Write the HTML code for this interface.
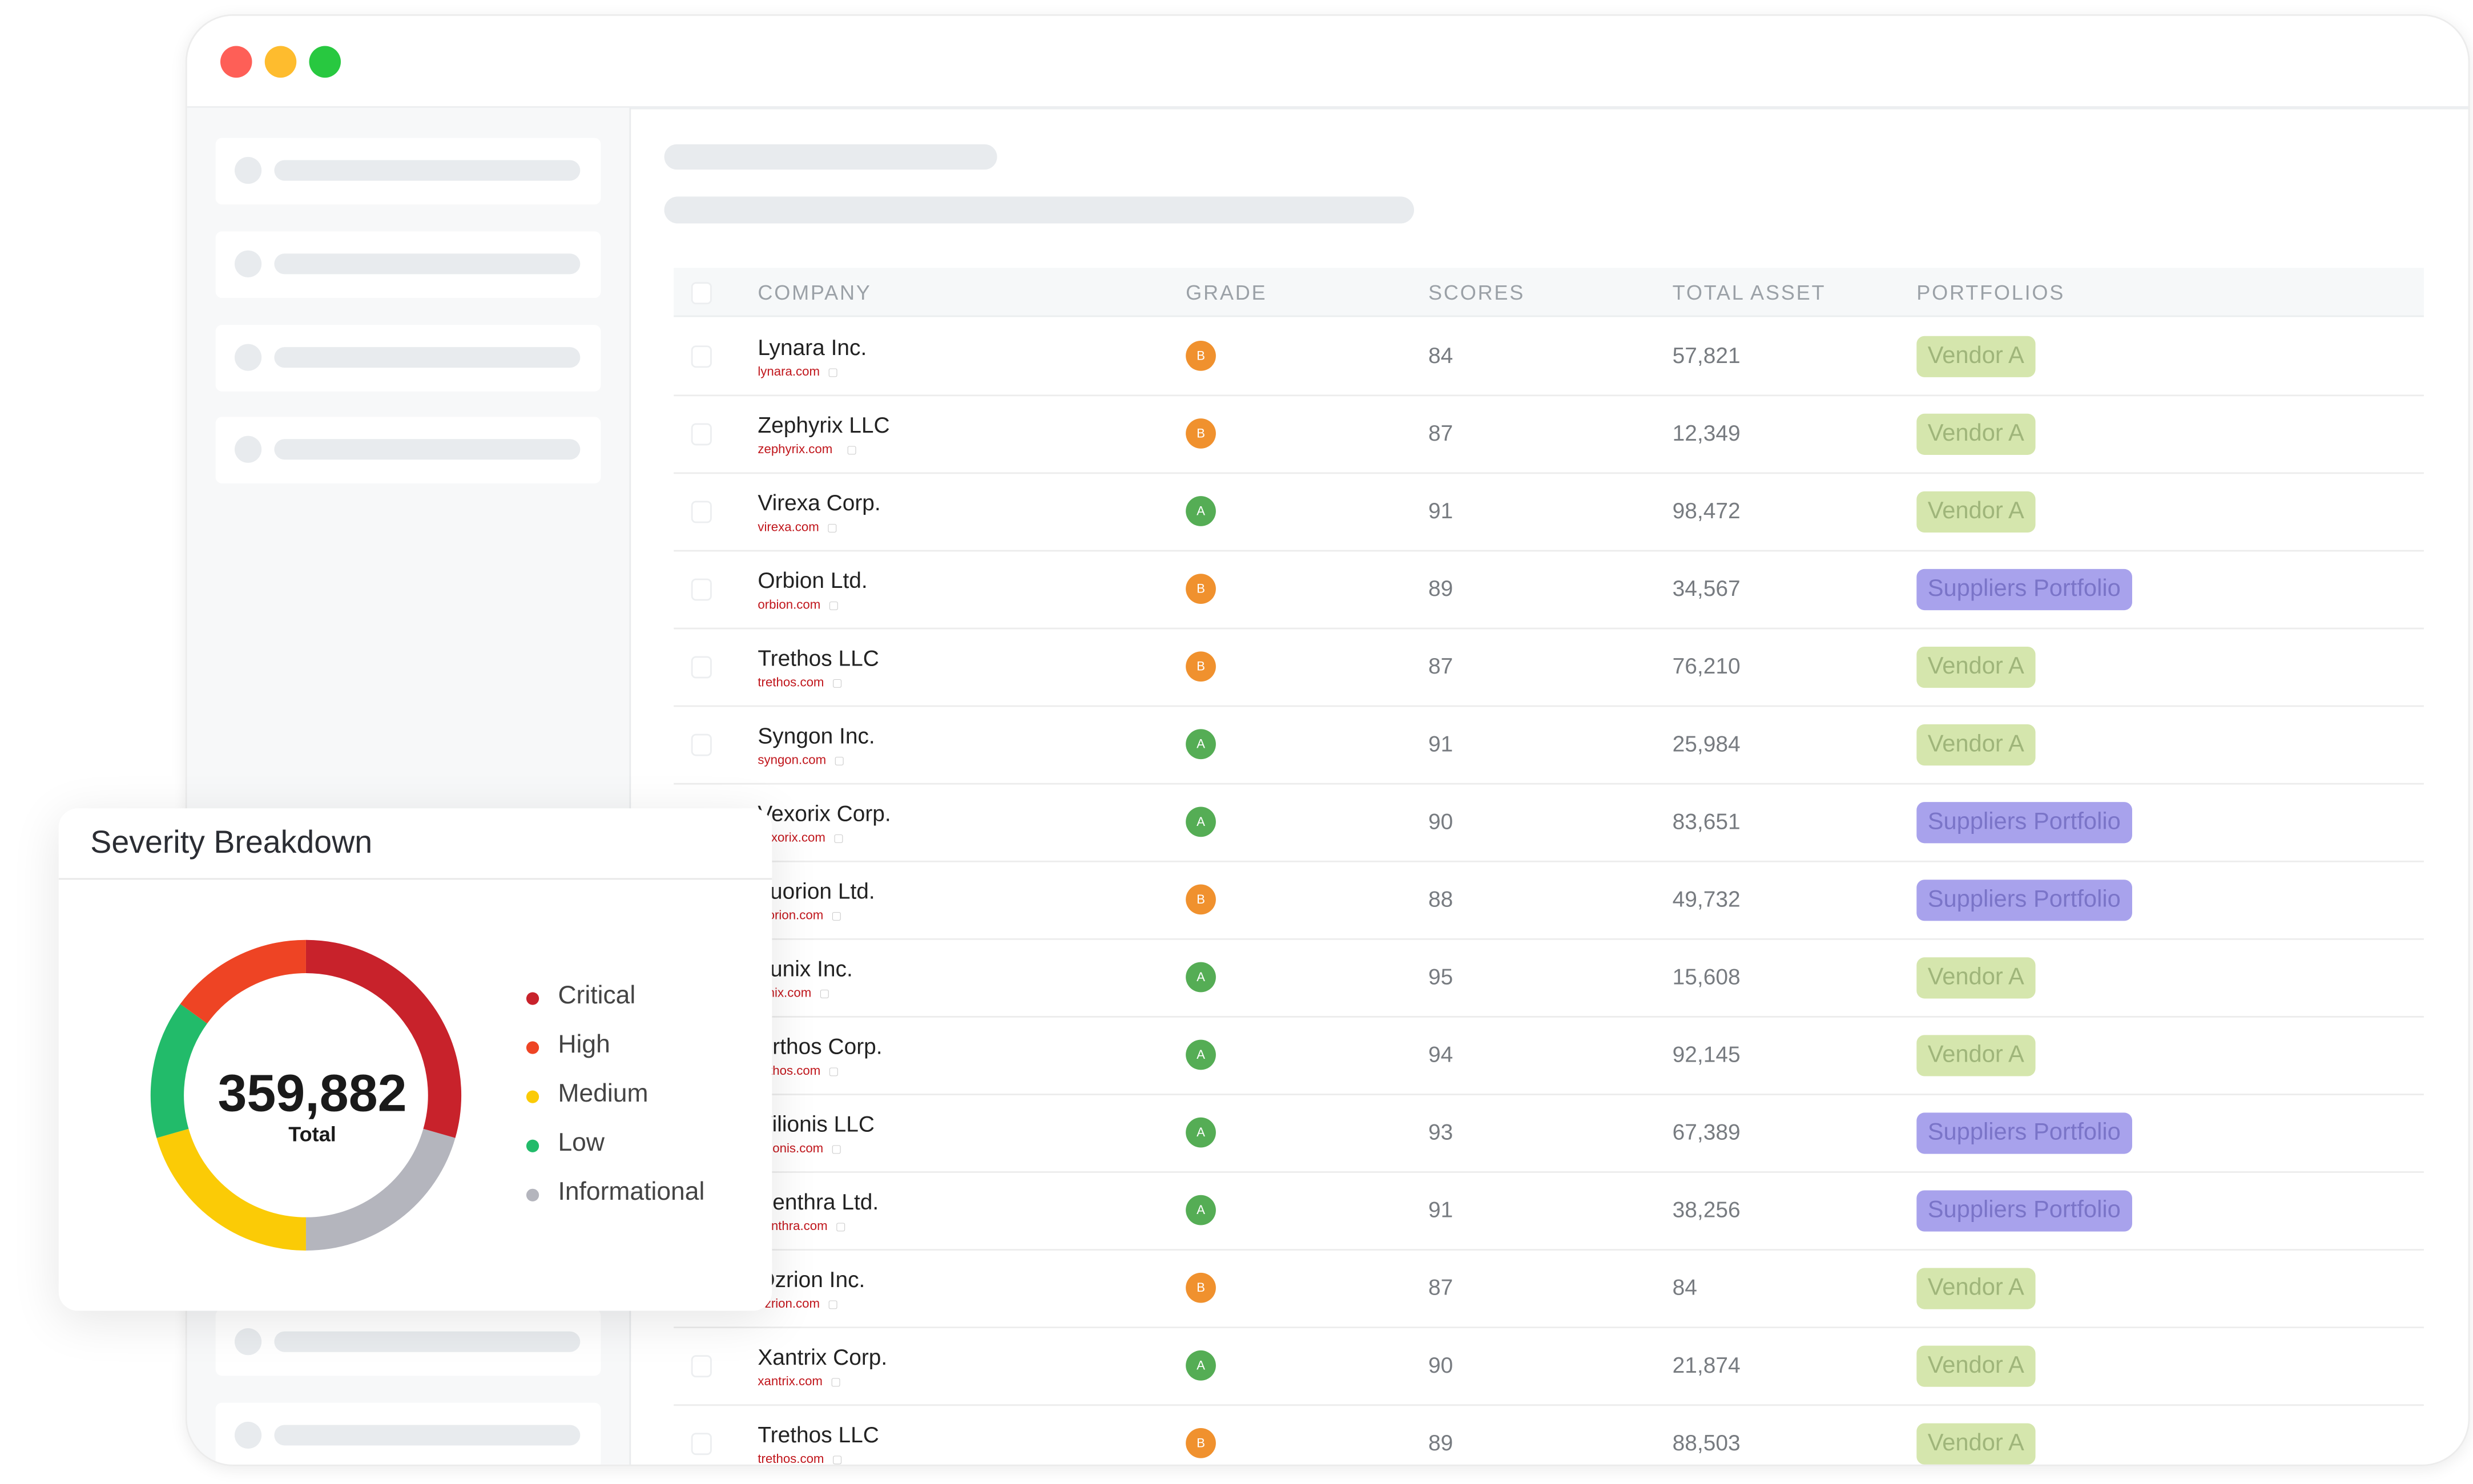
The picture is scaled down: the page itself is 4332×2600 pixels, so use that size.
<!DOCTYPE html>
<html><head><meta charset="utf-8">
<style>
html,body{margin:0;padding:0;background:#fff;}
body{width:4332px;height:2600px;overflow:hidden;position:relative;font-family:"Liberation Sans",sans-serif;}
#s{position:absolute;left:0;top:0;width:1560px;height:936.3px;transform:scale(2.77692);transform-origin:0 0;}
.abs{position:absolute;}
.win{left:117px;top:9px;width:1439px;height:914px;border-radius:30px;background:#fff;box-shadow:0 2px 10px rgba(0,0,0,0.08);border:1px solid #ececec;overflow:hidden;}
.dot{width:20px;height:20px;border-radius:50%;top:19px;}
.side{left:0;top:58px;width:279px;height:860px;background:#f7f8f9;border-right:1px solid #e9ebed;}
.hdrline{left:0;top:57px;width:1439px;height:2px;background:#eceef0;}
.card{left:18px;width:243px;height:42px;background:#fff;border-radius:4px;}
.card .c{position:absolute;left:12px;top:12px;width:17px;height:17px;border-radius:50%;background:#e8ebee;}
.card .b{position:absolute;left:37px;top:14px;width:193px;height:13px;border-radius:7px;background:#e8ebee;}
.sk{background:#e8ebee;border-radius:9px;}
.th{left:307px;top:159px;width:1104px;height:30px;background:#f6f8f9;border-bottom:1px solid #eaedef;}
.thx{position:absolute;top:8px;font-size:13px;letter-spacing:1px;color:#9ba1a7;}
.row{left:307px;width:1104px;height:49px;border-bottom:1px solid #ececec;}
.cb{position:absolute;left:11px;top:18px;width:11px;height:12px;border:1px solid #eceef0;border-radius:3px;background:#fff;}
.nm{position:absolute;left:53px;top:11px;font-size:14px;color:#222;white-space:nowrap;}
.dm{position:absolute;left:53px;top:30px;font-size:8px;color:#c0151b;white-space:nowrap;}
.dm i{font-style:normal;color:#ccc;margin-left:5px;font-size:7px;}
.gr{position:absolute;left:323px;top:15px;width:19px;height:19px;border-radius:50%;color:#fff;font-size:8px;text-align:center;line-height:19px;}
.gB{background:#f0912e;}.gA{background:#55ad55;}
.sc{position:absolute;left:476px;top:16px;font-size:14px;color:#777b80;}
.ta{position:absolute;left:630px;top:16px;font-size:14px;color:#777b80;}
.pill{position:absolute;left:784px;top:12px;height:26px;line-height:26px;border-radius:5px;font-size:15px;padding:0 7px;}
.pv{background:#d5e6ad;color:#9fb57a;}
.ps{background:#a8a2ec;color:#7a74c8;}
.sev{left:37px;top:510px;width:450px;height:317px;background:#fff;border-radius:12px;box-shadow:0 6px 30px rgba(0,0,0,0.10);overflow:hidden;}
.lg{position:absolute;left:315px;font-size:16px;color:#444;}
.lg span{position:absolute;left:-20px;top:6px;width:8px;height:8px;border-radius:50%;}
</style></head><body><div id="s">
<div class="abs win">
  <div class="abs dot" style="left:21px;background:#fe5f57;"></div>
  <div class="abs dot" style="left:49px;background:#febc2e;"></div>
  <div class="abs dot" style="left:77px;background:#28c840;"></div>
  <div class="abs hdrline"></div>
  <div class="abs side">
    <div class="abs card" style="top:19px"><div class="c"></div><div class="b"></div></div>
    <div class="abs card" style="top:78px"><div class="c"></div><div class="b"></div></div>
    <div class="abs card" style="top:137px"><div class="c"></div><div class="b"></div></div>
    <div class="abs card" style="top:195px"><div class="c"></div><div class="b"></div></div>
    <div class="abs card" style="top:758px"><div class="c"></div><div class="b"></div></div>
    <div class="abs card" style="top:817px"><div class="c"></div><div class="b"></div></div>
  </div>
  <div class="abs sk" style="left:301px;top:81px;width:210px;height:16px;"></div>
  <div class="abs sk" style="left:301px;top:114px;width:473px;height:17px;"></div>
  <div class="abs th">
    <div class="cb" style="top:9px"></div>
    <div class="thx" style="left:53px">COMPANY</div>
    <div class="thx" style="left:323px">GRADE</div>
    <div class="thx" style="left:476px">SCORES</div>
    <div class="thx" style="left:630px">TOTAL ASSET</div>
    <div class="thx" style="left:784px">PORTFOLIOS</div>
  </div>
  <div class="abs row" style="top:190px"><div class="cb"></div><div class="nm">Lynara Inc.</div><div class="dm">lynara.com<i>▢</i></div><div class="gr gB">B</div><div class="sc">84</div><div class="ta">57,821</div><div class="pill pv">Vendor A</div></div>
  <div class="abs row" style="top:239px"><div class="cb"></div><div class="nm">Zephyrix LLC</div><div class="dm">zephyrix.com<i>&nbsp;&nbsp;▢</i></div><div class="gr gB">B</div><div class="sc">87</div><div class="ta">12,349</div><div class="pill pv">Vendor A</div></div>
  <div class="abs row" style="top:288px"><div class="cb"></div><div class="nm">Virexa Corp.</div><div class="dm">virexa.com<i>▢</i></div><div class="gr gA">A</div><div class="sc">91</div><div class="ta">98,472</div><div class="pill pv">Vendor A</div></div>
  <div class="abs row" style="top:337px"><div class="cb"></div><div class="nm">Orbion Ltd.</div><div class="dm">orbion.com<i>▢</i></div><div class="gr gB">B</div><div class="sc">89</div><div class="ta">34,567</div><div class="pill ps">Suppliers Portfolio</div></div>
  <div class="abs row" style="top:386px"><div class="cb"></div><div class="nm">Trethos LLC</div><div class="dm">trethos.com<i>▢</i></div><div class="gr gB">B</div><div class="sc">87</div><div class="ta">76,210</div><div class="pill pv">Vendor A</div></div>
  <div class="abs row" style="top:435px"><div class="cb"></div><div class="nm">Syngon Inc.</div><div class="dm">syngon.com<i>▢</i></div><div class="gr gA">A</div><div class="sc">91</div><div class="ta">25,984</div><div class="pill pv">Vendor A</div></div>
  <div class="abs row" style="top:484px"><div class="cb"></div><div class="nm">Vexorix Corp.</div><div class="dm">vexorix.com<i>▢</i></div><div class="gr gA">A</div><div class="sc">90</div><div class="ta">83,651</div><div class="pill ps">Suppliers Portfolio</div></div>
  <div class="abs row" style="top:533px"><div class="cb"></div><div class="nm">Luorion Ltd.</div><div class="dm">luorion.com<i>▢</i></div><div class="gr gB">B</div><div class="sc">88</div><div class="ta">49,732</div><div class="pill ps">Suppliers Portfolio</div></div>
  <div class="abs row" style="top:582px"><div class="cb"></div><div class="nm">Lunix Inc.</div><div class="dm">lunix.com<i>▢</i></div><div class="gr gA">A</div><div class="sc">95</div><div class="ta">15,608</div><div class="pill pv">Vendor A</div></div>
  <div class="abs row" style="top:631px"><div class="cb"></div><div class="nm">Erthos Corp.</div><div class="dm">erthos.com<i>▢</i></div><div class="gr gA">A</div><div class="sc">94</div><div class="ta">92,145</div><div class="pill pv">Vendor A</div></div>
  <div class="abs row" style="top:680px"><div class="cb"></div><div class="nm">Vilionis LLC</div><div class="dm">vilionis.com<i>▢</i></div><div class="gr gA">A</div><div class="sc">93</div><div class="ta">67,389</div><div class="pill ps">Suppliers Portfolio</div></div>
  <div class="abs row" style="top:729px"><div class="cb"></div><div class="nm">Xenthra Ltd.</div><div class="dm">xenthra.com<i>▢</i></div><div class="gr gA">A</div><div class="sc">91</div><div class="ta">38,256</div><div class="pill ps">Suppliers Portfolio</div></div>
  <div class="abs row" style="top:778px"><div class="cb"></div><div class="nm">Ozrion Inc.</div><div class="dm">ozrion.com<i>▢</i></div><div class="gr gB">B</div><div class="sc">87</div><div class="ta">84</div><div class="pill pv">Vendor A</div></div>
  <div class="abs row" style="top:827px"><div class="cb"></div><div class="nm">Xantrix Corp.</div><div class="dm">xantrix.com<i>▢</i></div><div class="gr gA">A</div><div class="sc">90</div><div class="ta">21,874</div><div class="pill pv">Vendor A</div></div>
  <div class="abs row" style="top:876px;border-bottom:none"><div class="cb"></div><div class="nm">Trethos LLC</div><div class="dm">trethos.com<i>▢</i></div><div class="gr gB">B</div><div class="sc">89</div><div class="ta">88,503</div><div class="pill pv">Vendor A</div></div>
</div>

<div class="abs sev">
  <div style="position:absolute;left:20px;top:11px;font-size:20px;color:#2b2d33;">Severity Breakdown</div>
  <div style="position:absolute;left:0;top:44px;width:450px;height:1px;background:#e8e8e8;"></div>
  <svg style="position:absolute;left:0;top:0" width="450" height="317" viewBox="37 510 450 317">
    <g fill="none" stroke-width="21">
      <path d="M193 603.5 A87.5 87.5 0 0 1 277.1 715.1" stroke="#c8222b"/>
      <path d="M277.1 715.1 A87.5 87.5 0 0 1 193 778.5" stroke="#b4b5bd"/>
      <path d="M193 778.5 A87.5 87.5 0 0 1 108.9 715.1" stroke="#fbcb06"/>
      <path d="M108.9 715.1 A87.5 87.5 0 0 1 122.2 639.6" stroke="#22bb6a"/>
      <path d="M122.2 639.6 A87.5 87.5 0 0 1 193 603.5" stroke="#ee4424"/>
    </g>
    <text x="197" y="701" text-anchor="middle" font-family="Liberation Sans,sans-serif" font-size="33" font-weight="bold" fill="#1a1a1a">359,882</text>
    <text x="197" y="720" text-anchor="middle" font-family="Liberation Sans,sans-serif" font-size="13" font-weight="bold" fill="#1a1a1a">Total</text>
  </svg>
  <div class="lg" style="top:110px"><span style="background:#c8222b"></span>Critical</div>
  <div class="lg" style="top:141px"><span style="background:#ee4424"></span>High</div>
  <div class="lg" style="top:172px"><span style="background:#fbcb06"></span>Medium</div>
  <div class="lg" style="top:203px"><span style="background:#22bb6a"></span>Low</div>
  <div class="lg" style="top:234px"><span style="background:#b4b5bd"></span>Informational</div>
</div>
</div></body></html>
